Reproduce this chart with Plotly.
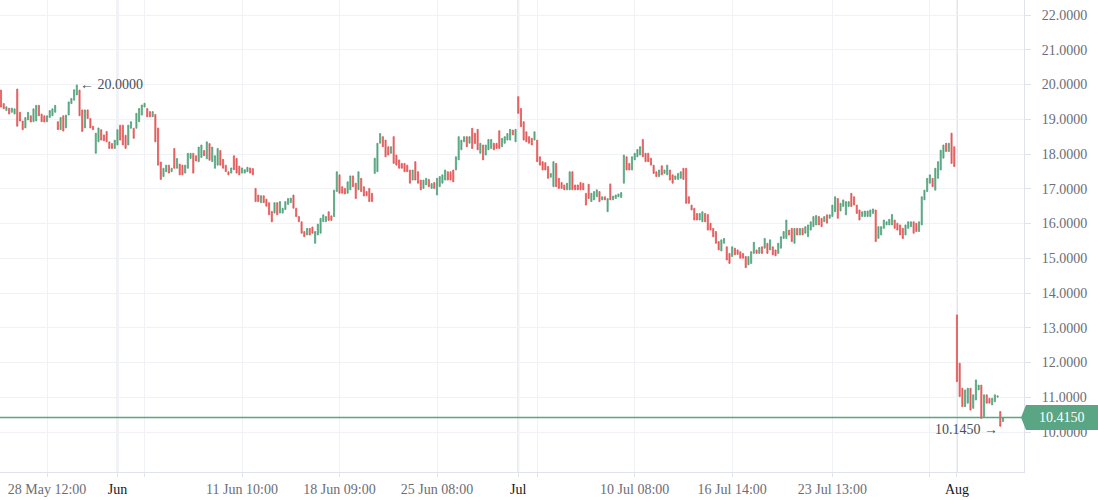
import plotly.graph_objects as go

# ---- data (hourly candles, grouped by month) ----
may_open = [19.84, 19.45, 19.25, 19.32, 19.20, 19.15, 19.87, 19.20, 18.95, 18.75,
            18.98, 19.10, 18.93, 18.95, 19.40, 19.15, 19.10, 18.93, 19.05, 19.10,
            19.20, 18.93, 18.70, 19.10, 18.75, 19.12, 19.45, 19.55, 19.70, 19.84,
            19.27, 18.75, 19.27, 19.02, 18.80, 18.02, 18.35, 18.70, 18.55, 18.65,
            18.35, 18.30, 18.16]
may_close = [19.35, 19.30, 19.36, 19.15, 19.32, 19.30, 18.80, 18.95, 18.70, 19.05,
             19.20, 18.92, 19.30, 19.40, 19.10, 18.93, 18.92, 19.10, 19.25, 19.30,
             19.40, 18.70, 19.05, 18.66, 19.12, 19.50, 19.60, 19.85, 19.98, 19.10,
             18.65, 19.27, 19.02, 18.75, 18.70, 18.60, 18.75, 18.40, 18.38, 18.35,
             18.16, 18.16, 18.40]

jun_open = [18.26, 18.83, 18.83, 18.54, 18.26, 18.74, 18.74, 18.74, 18.93, 19.12,
            19.35, 19.31, 19.22, 19.07, 19.14, 18.75, 17.77, 17.35, 17.49, 17.68,
            17.49, 18.16, 17.59, 17.71, 17.68, 17.45, 17.59, 17.87, 18.02, 17.95,
            17.78, 17.90, 18.10, 17.86, 18.30, 17.78, 17.59, 17.68, 18.10, 17.85,
            17.68, 17.49, 17.45, 17.95, 17.87, 17.65, 17.45, 17.45, 17.49, 17.60,
            17.58, 17.01, 16.82, 16.60, 16.80, 16.70, 16.60, 16.35, 16.30, 16.60,
            16.30, 16.30, 16.40, 16.55, 16.60, 16.82, 16.44, 16.20, 16.05, 15.77,
            15.67, 15.86, 15.90, 15.43, 15.67, 15.72, 16.05, 16.05, 16.34, 16.22,
            16.20,
            16.92, 17.40, 17.06, 17.01, 16.87, 16.97, 17.37, 17.16, 16.97, 17.30,
            17.06, 16.92, 17.01, 16.87, 17.44, 17.49, 18.31, 18.50, 18.40, 18.21,
            18.02, 18.50, 17.97, 17.83, 17.73, 17.73, 17.68, 17.54, 17.25, 17.78,
            17.49, 17.25, 17.01, 17.11, 17.27, 17.01, 17.18, 16.82, 17.06, 17.16,
            17.25, 17.49, 17.49, 17.54, 17.54, 17.83, 18.12, 18.35, 18.50, 18.31,
            18.74, 18.60, 18.71, 18.02, 18.26, 17.97, 18.12, 18.16, 18.31, 18.31,
            18.67, 18.21, 18.31, 18.40, 18.40, 18.69, 18.35]
jun_close = [18.70, 18.40, 18.26, 18.16, 18.83, 18.93, 18.45, 19.17, 19.31, 19.41,
             19.46, 19.07, 19.07, 19.22, 18.35, 17.68, 17.27, 17.59, 17.68, 17.45,
             17.59, 17.59, 17.87, 17.40, 17.40, 17.68, 18.02, 18.02, 17.45, 17.80,
             18.20, 18.26, 17.95, 18.35, 17.82, 18.20, 17.95, 18.16, 17.68, 17.59,
             17.49, 17.40, 17.60, 17.55, 17.45, 17.40, 17.60, 17.55, 17.62, 17.45,
             17.40, 16.63, 16.63, 16.80, 16.60, 16.50, 16.25, 16.05, 16.60, 16.25,
             16.63, 16.44, 16.63, 16.72, 16.73, 16.44, 16.20, 16.05, 15.72, 15.62,
             15.86, 15.67, 15.72, 15.77, 15.98, 16.15, 16.25, 16.20, 16.09, 16.09,
             16.96,
             17.49, 16.87, 16.87, 16.85, 17.20, 17.37, 17.06, 16.72, 17.49, 16.92,
             16.79, 16.80, 16.63, 16.63, 17.88, 18.31, 18.59, 18.21, 17.92, 17.97,
             18.21, 17.73, 17.68, 17.59, 17.59, 17.49, 17.49, 17.16, 17.54, 17.25,
             17.16, 16.97, 17.25, 17.30, 17.06, 17.15, 17.01, 17.30, 17.35, 17.40,
             17.54, 17.25, 17.25, 17.20, 17.92, 18.50, 18.40, 18.50, 18.21, 18.50,
             18.16, 18.30, 18.12, 18.31, 17.83, 18.26, 18.42, 18.42, 18.12, 18.16,
             18.16, 18.45, 18.50, 18.59, 18.71, 18.55, 18.71]

jul_open = [19.65, 19.31, 18.93, 18.64, 18.50, 18.45, 18.40, 18.40, 17.92, 17.78,
            17.75, 17.64, 17.33, 17.06, 17.73, 17.30, 17.18, 17.11, 16.97,
            16.97, 17.49, 17.11, 17.11, 17.18, 17.16, 16.87, 17.13, 16.63,
            16.68, 16.77, 16.92, 16.68, 16.77, 16.34, 17.14, 16.68, 16.72,
            16.77, 16.75, 17.16, 17.92, 17.73, 17.54, 17.83, 17.92, 17.97, 18.42,
            18.02, 18.02, 17.88, 17.68, 17.49, 17.35, 17.66, 17.44, 17.40, 17.54,
            17.40, 17.27, 17.27, 17.30, 17.59,
            17.59, 16.77, 16.53, 16.44, 16.29, 16.10, 16.05, 16.29, 16.26, 16.01,
            15.86, 15.77, 15.48, 15.21, 15.43, 15.33, 15.14, 15.05, 15.29, 15.24,
            15.19, 15.14, 15.05, 14.81, 14.85, 15.14, 15.24, 15.14, 15.33, 15.29,
            15.43, 15.24, 15.33, 15.24, 15.14, 15.29, 15.57, 15.57, 15.81, 15.86,
            15.43, 15.86, 15.67, 15.86, 15.72, 15.62, 15.81, 15.91, 15.96, 16.20,
            16.15, 16.05, 16.25, 16.15, 16.20, 16.34, 16.72, 16.36, 16.49, 16.25,
            16.49, 16.87, 16.77, 16.53, 16.39, 16.20, 16.20, 16.20, 16.20, 16.29,
            16.39, 15.57, 15.67, 15.86, 15.96, 15.96, 15.96, 16.10, 16.01, 15.96,
            15.86, 15.67, 15.86, 15.91, 16.05, 16.01, 15.77, 15.96, 16.68, 16.92,
            17.16, 17.30, 16.96, 17.30, 17.54, 17.88, 18.31, 18.07, 18.60, 18.21]
jul_close = [19.17, 18.79, 18.40, 18.35, 18.31, 18.26, 18.64, 17.78, 17.68, 17.54,
             17.54, 17.30, 17.44, 17.78, 17.06, 17.01, 17.01, 16.97, 17.16,
             17.49, 16.97, 16.97, 16.97, 16.97, 16.97, 16.53, 16.72, 16.87,
             16.92, 16.97, 16.63, 16.77, 16.68, 16.72, 16.68, 16.79, 16.82,
             16.85, 16.89, 17.97, 17.54, 17.54, 17.92, 18.02, 18.13, 18.21, 17.92,
             17.78, 17.78, 17.68, 17.44, 17.35, 17.54, 17.40, 17.54, 17.68, 17.25,
             17.16, 17.37, 17.44, 17.49, 17.27,
             16.58, 16.58, 16.39, 16.10, 16.10, 16.29, 16.34, 16.05, 15.81, 15.81,
             15.62, 15.43, 15.24, 15.53, 15.57, 14.95, 14.85, 15.33, 15.10, 15.11,
             15.00, 15.00, 14.73, 15.05, 15.19, 15.46, 15.14, 15.31, 15.14, 15.57,
             15.14, 15.53, 15.10, 15.07, 15.43, 15.62, 15.77, 16.10, 15.67, 15.48,
             15.86, 15.67, 15.86, 15.67, 15.91, 15.96, 16.05, 16.20, 16.23, 15.96,
             15.91, 16.20, 16.01, 16.25, 16.53, 16.77, 16.15, 16.58, 16.68, 16.63,
             16.63, 16.49, 16.53, 16.29, 16.10, 16.34, 16.36, 16.36, 16.39, 16.42,
             15.48, 15.91, 15.91, 16.10, 16.05, 16.12, 16.26, 15.86, 15.81, 15.67,
             15.57, 15.96, 16.05, 16.05, 15.72, 15.77, 16.05, 16.77, 16.96, 17.30,
             17.40, 17.06, 17.59, 17.78, 18.11, 18.26, 18.07, 18.31, 17.73, 17.64]

aug_open = [13.37, 11.98, 11.26, 10.73, 10.83, 11.26, 10.68, 10.92, 11.21, 11.35,
            10.44, 11.07, 10.97, 10.78, 10.87, 11.00, 10.59, 10.30]
aug_close = [11.45, 11.02, 10.73, 11.21, 11.26, 10.63, 11.07, 11.50, 11.35, 10.39,
             11.07, 10.83, 10.83, 10.97, 11.07, 11.04, 10.17, 10.415]

peak_high = 20.0000
trough_low = 10.1450

price_ticks = [10, 11, 12, 13, 14, 15, 16, 17, 18, 19, 20, 21, 22]
month_labels = ["Jun", "Jul", "Aug"]
# tick label text and its bar offset from the start of its month
jun_ticks = [(-26, "28 May 12:00"), (10, ""), (46, "11 Jun 10:00"),
             (82, "18 Jun 09:00"), (118, "25 Jun 08:00")]
jul_ticks = [(7, ""), (43, "10 Jul 08:00"), (79, "16 Jul 14:00"),
             (116, "23 Jul 13:00"), (152, "")]

# ---- assemble ----
opens = may_open + jun_open + jul_open + aug_open
closes = may_close + jun_close + jul_close + aug_close
N = len(opens)
x = list(range(N))
highs = [max(o, c) for o, c in zip(opens, closes)]
lows = [min(o, c) for o, c in zip(opens, closes)]
i_hi = closes.index(max(closes))
i_lo = closes.index(min(closes))
highs[i_hi] = peak_high
lows[i_lo] = trough_low

jun_start = len(may_open)
jul_start = jun_start + len(jun_open)
aug_start = jul_start + len(jul_open)
month_starts = [jun_start, jul_start, aug_start]

tickvals, ticktext = [], []
for off, t in jun_ticks:
    tickvals.append(jun_start + off); ticktext.append(t)
for off, t in jul_ticks:
    tickvals.append(jul_start + off); ticktext.append(t)
for s, m in zip(month_starts, month_labels):
    tickvals.append(s); ticktext.append(f"<span style='color:#131722'>{m}</span>")

UP = "#56a57f"
DOWN = "#e35b5b"
GRID = "#f0f2f6"
LINE = "#e0e3eb"
FONT = "Liberation Serif"
PRICE_GREEN = "#5aa583"

# pixel geometry of the plotting area
plot_w = 1024
plot_h = 472
first_px, last_px = 1, 1003
ppc = (last_px - first_px) / (N - 1)
x_range = [-first_px / ppc, (N - 1) + (plot_w - last_px) / ppc]
y_range = [8.849, 22.432]

fig = go.Figure(go.Candlestick(
    x=x, open=opens, high=highs, low=lows, close=closes,
    increasing=dict(line=dict(color=UP, width=0.8), fillcolor=UP),
    decreasing=dict(line=dict(color=DOWN, width=0.8), fillcolor=DOWN),
    hoverinfo="skip", whiskerwidth=0,
))

shapes = []
for s in month_starts:
    shapes.append(dict(type="line", xref="x", yref="paper", x0=s, x1=s, y0=0, y1=1,
                       line=dict(color="#e2e5eb", width=2), layer="below"))
last = closes[-1]
py = (last - y_range[0]) / (y_range[1] - y_range[0])
shapes.append(dict(type="line", xref="paper", yref="paper", x0=0, x1=1, y0=py, y1=py,
                   line=dict(color=PRICE_GREEN, width=1.5)))
hh = 12.5 / plot_h
x_l = 1026 / plot_w
x_r = 1098 / plot_w
x_tip = 1021 / plot_w
shapes.append(dict(type="path", xref="paper", yref="paper",
                   path=f"M {x_l} {py + hh} L {x_r} {py + hh} L {x_r} {py - hh} L {x_l} {py - hh} L {x_tip} {py} Z",
                   fillcolor=PRICE_GREEN, line=dict(width=0)))

annotations = [
    dict(x=i_hi, y=peak_high, xref="x", yref="y", text=f"\u2190 {peak_high:.4f}",
         showarrow=False, xanchor="left", yanchor="middle", xshift=1,
         font=dict(family=FONT, size=14, color="#4a4d55")),
    dict(x=i_lo, y=trough_low, xref="x", yref="y", text=f"{trough_low:.4f} \u2192",
         showarrow=False, xanchor="right", yanchor="middle", xshift=0, yshift=-3,
         font=dict(family=FONT, size=14, color="#4a4d55")),
    dict(x=1062 / plot_w, y=py, xref="paper", yref="paper", text=f"{last:.4f}",
         showarrow=False, xanchor="center", yanchor="middle",
         font=dict(family=FONT, size=14, color="white")),
]

fig.update_layout(
    width=1098, height=500,
    margin=dict(l=0, r=74, t=0, b=28),
    paper_bgcolor="white", plot_bgcolor="white",
    showlegend=False, hovermode=False, boxgap=0.4,
    font=dict(family=FONT, size=14, color="#6b6e76"),
    shapes=shapes, annotations=annotations,
    xaxis=dict(range=x_range, tickmode="array", tickvals=tickvals, ticktext=ticktext,
               showgrid=True, gridcolor=GRID, gridwidth=1, zeroline=False,
               ticks="outside", ticklen=4, tickcolor=LINE, tickangle=0,
               showline=True, linecolor=LINE, rangeslider=dict(visible=False),
               tickfont=dict(family=FONT, size=14, color="#6b6e76")),
    yaxis=dict(side="right", range=y_range, tickmode="array",
               tickvals=price_ticks, ticktext=[f"{v:.4f}" for v in price_ticks],
               showgrid=True, gridcolor=GRID, gridwidth=1,
               zeroline=False, ticks="outside", ticklen=6, tickcolor=LINE,
               showline=True, linecolor=LINE, ticklabelstandoff=8,
               tickfont=dict(family=FONT, size=14, color="#6b6e76")),
)

fig.write_html("out.html", config={"displayModeBar": False},
               post_script="document.body.style.margin='0px';")
